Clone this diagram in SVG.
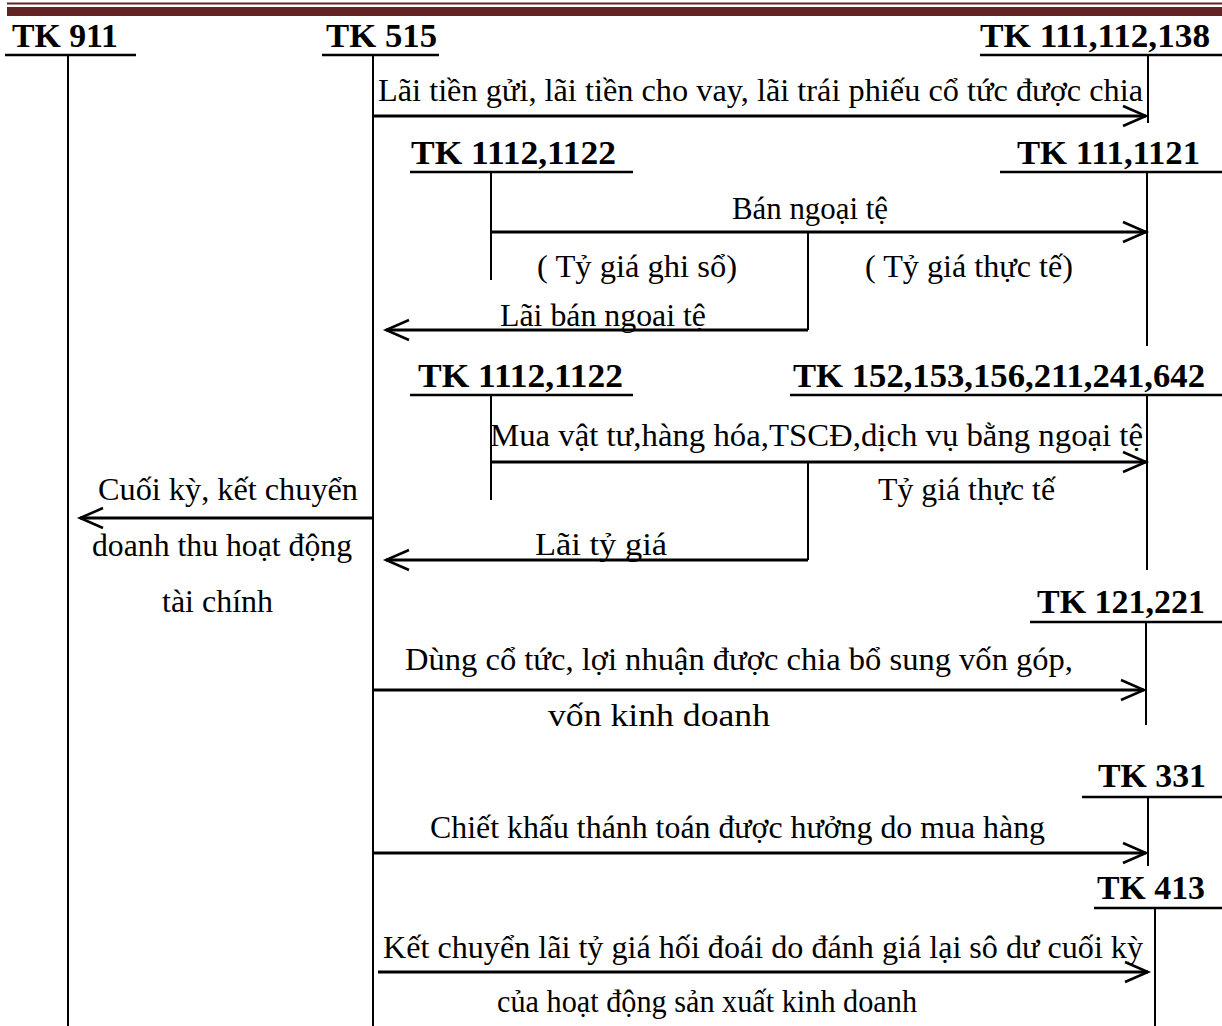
<svg xmlns="http://www.w3.org/2000/svg" width="1222" height="1026" viewBox="0 0 1222 1026">
<defs>
<style>
.h{font-family:"Liberation Serif","Times New Roman",serif;font-weight:bold;font-size:34px;fill:#000}
.t{font-family:"Liberation Serif","Times New Roman",serif;font-size:32px;fill:#000}
.ul{stroke:#000;stroke-width:2.5;fill:none}
.v{stroke:#000;stroke-width:2;fill:none}
.a{stroke:#000;stroke-width:3;fill:none}
</style>
<marker id="arr" markerUnits="userSpaceOnUse" markerWidth="30" markerHeight="26" refX="26" refY="13" orient="auto">
<path d="M3,3 L26,13 L3,23" fill="none" stroke="#000" stroke-width="2.5"/>
</marker>
</defs>
<rect width="1222" height="1026" fill="#fff"/>
<g id="header-band">
<rect x="7" y="2.5" width="1215" height="2" fill="#622323"/>
<rect x="7" y="7" width="1215" height="9" fill="#622323"/>
</g>
<g id="tk911">
<text class="h" x="12" y="47" textLength="106" lengthAdjust="spacingAndGlyphs">TK 911</text>
<line class="ul" x1="5" y1="55" x2="136" y2="55"/>
<line class="v" x1="68" y1="55" x2="68" y2="1026"/>
</g>
<g id="tk515">
<text class="h" x="326" y="47" textLength="111" lengthAdjust="spacingAndGlyphs">TK 515</text>
<line class="ul" x1="322" y1="55" x2="439" y2="55"/>
<line class="v" x1="373" y1="55" x2="373" y2="1026"/>
</g>
<g id="tk111-112-138">
<text class="h" x="980" y="47" textLength="230" lengthAdjust="spacingAndGlyphs">TK 111,112,138</text>
<line class="ul" x1="980" y1="55" x2="1222" y2="55"/>
<line class="v" x1="1148" y1="55" x2="1148" y2="123"/>
</g>
<g id="tk1112-1122-a">
<text class="h" x="411" y="164" textLength="205" lengthAdjust="spacingAndGlyphs">TK 1112,1122</text>
<line class="ul" x1="410" y1="172" x2="633" y2="172"/>
<line class="v" x1="491" y1="172" x2="491" y2="280"/>
</g>
<g id="tk111-1121">
<text class="h" x="1017" y="164" textLength="183" lengthAdjust="spacingAndGlyphs">TK 111,1121</text>
<line class="ul" x1="1000" y1="172" x2="1222" y2="172"/>
<line class="v" x1="1147" y1="172" x2="1147" y2="346"/>
</g>
<g id="tk1112-1122-b">
<text class="h" x="418" y="387" textLength="205" lengthAdjust="spacingAndGlyphs">TK 1112,1122</text>
<line class="ul" x1="410" y1="395" x2="633" y2="395"/>
<line class="v" x1="491" y1="395" x2="491" y2="500"/>
</g>
<g id="tk152-642">
<text class="h" x="793" y="387" textLength="412" lengthAdjust="spacingAndGlyphs">TK 152,153,156,211,241,642</text>
<line class="ul" x1="790" y1="395" x2="1222" y2="395"/>
<line class="v" x1="1147" y1="395" x2="1147" y2="570"/>
</g>
<g id="tk121-221">
<text class="h" x="1037" y="613" textLength="168" lengthAdjust="spacingAndGlyphs">TK 121,221</text>
<line class="ul" x1="1030" y1="622" x2="1222" y2="622"/>
<line class="v" x1="1146" y1="622" x2="1146" y2="725"/>
</g>
<g id="tk331">
<text class="h" x="1098" y="787" textLength="108" lengthAdjust="spacingAndGlyphs">TK 331</text>
<line class="ul" x1="1082" y1="797" x2="1222" y2="797"/>
<line class="v" x1="1148" y1="797" x2="1148" y2="866"/>
</g>
<g id="tk413">
<text class="h" x="1097" y="899" textLength="108" lengthAdjust="spacingAndGlyphs">TK 413</text>
<line class="ul" x1="1094" y1="908" x2="1222" y2="908"/>
<line class="v" x1="1155" y1="908" x2="1155" y2="1026"/>
</g>
<g id="connectors">
<line class="a" x1="373" y1="116" x2="1146" y2="116" marker-end="url(#arr)"/>
<line class="a" x1="491" y1="232" x2="1146" y2="232" marker-end="url(#arr)"/>
<line class="v" x1="808" y1="232" x2="808" y2="330"/>
<line class="a" x1="808" y1="330" x2="386" y2="330" marker-end="url(#arr)"/>
<line class="a" x1="491" y1="462" x2="1146" y2="462" marker-end="url(#arr)"/>
<line class="v" x1="808" y1="462" x2="808" y2="560"/>
<line class="a" x1="808" y1="560" x2="386" y2="560" marker-end="url(#arr)"/>
<line class="a" x1="373" y1="518" x2="80" y2="518" marker-end="url(#arr)"/>
<line class="a" x1="373" y1="690" x2="1144" y2="690" marker-end="url(#arr)"/>
<line class="a" x1="373" y1="853" x2="1146" y2="853" marker-end="url(#arr)"/>
<line class="a" x1="378" y1="972" x2="1148" y2="972" marker-end="url(#arr)"/>
</g>
<g id="labels">
<text class="t" x="378" y="101" textLength="765" lengthAdjust="spacingAndGlyphs">Lãi tiền gửi, lãi tiền cho vay, lãi trái phiếu cổ tức được chia</text>
<text class="t" x="732" y="219" textLength="156" lengthAdjust="spacingAndGlyphs">Bán ngoại tệ</text>
<text class="t" x="537" y="277" textLength="200" lengthAdjust="spacingAndGlyphs">( Tỷ giá ghi sổ)</text>
<text class="t" x="865" y="277" textLength="208" lengthAdjust="spacingAndGlyphs">( Tỷ giá thực tế)</text>
<text class="t" x="500" y="326" textLength="206" lengthAdjust="spacingAndGlyphs">Lãi bán ngoai tệ</text>
<text class="t" x="490" y="446" textLength="653" lengthAdjust="spacingAndGlyphs">Mua vật tư,hàng hóa,TSCĐ,dịch vụ bằng ngoại tệ</text>
<text class="t" x="878" y="500" textLength="177" lengthAdjust="spacingAndGlyphs">Tỷ giá thực tế</text>
<text class="t" x="535" y="555" textLength="132" lengthAdjust="spacingAndGlyphs">Lãi tỷ giá</text>
<text class="t" x="98" y="500" textLength="260" lengthAdjust="spacingAndGlyphs">Cuối kỳ, kết chuyển</text>
<text class="t" x="92" y="556" textLength="260" lengthAdjust="spacingAndGlyphs">doanh thu hoạt động</text>
<text class="t" x="162" y="612" textLength="111" lengthAdjust="spacingAndGlyphs">tài chính</text>
<text class="t" x="405" y="670" textLength="668" lengthAdjust="spacingAndGlyphs">Dùng cổ tức, lợi nhuận được chia bổ sung vốn góp,</text>
<text class="t" x="548" y="726" textLength="222" lengthAdjust="spacingAndGlyphs">vốn kinh doanh</text>
<text class="t" x="430" y="838" textLength="615" lengthAdjust="spacingAndGlyphs">Chiết khấu thánh toán được hưởng do mua hàng</text>
<text class="t" x="383" y="958" textLength="760" lengthAdjust="spacingAndGlyphs">Kết chuyển lãi tỷ giá hối đoái do đánh giá lại sô dư cuối kỳ</text>
<text class="t" x="497" y="1012" textLength="420" lengthAdjust="spacingAndGlyphs">của hoạt động sản xuất kinh doanh</text>
</g>
</svg>
